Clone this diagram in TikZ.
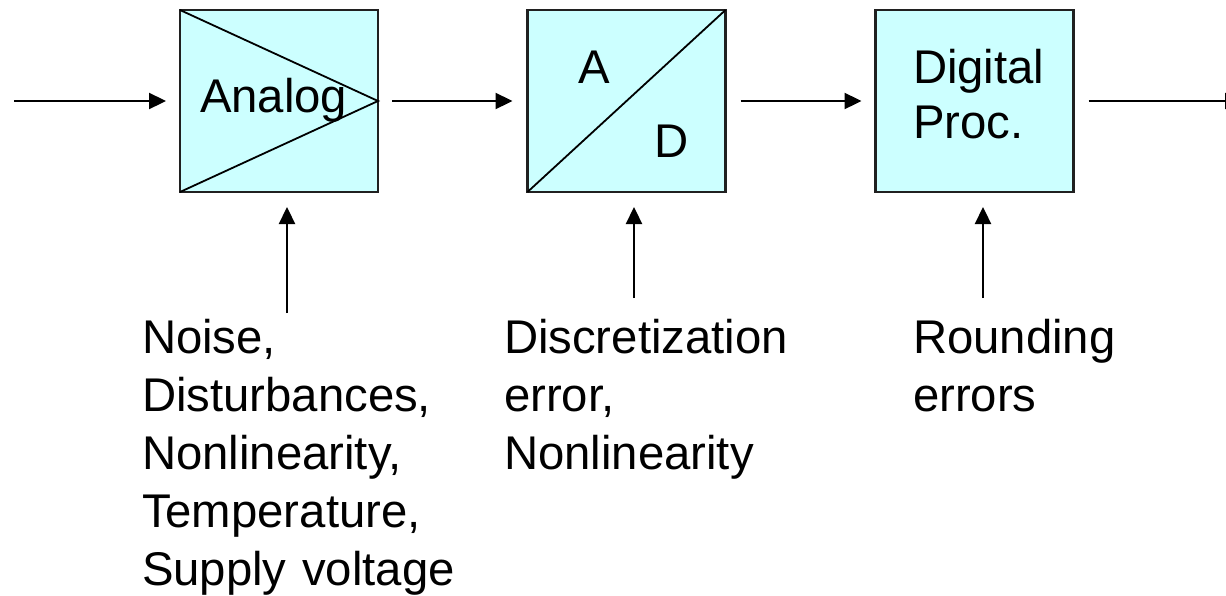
\documentclass[tikz,border=0pt]{standalone}
\usepackage{fontspec}
\setmainfont{Liberation Sans}
\usetikzlibrary{arrows.meta}

\definecolor{boxfill}{HTML}{CCFFFF}
\definecolor{boxline}{HTML}{202020}

\begin{document}
\begin{tikzpicture}[x=1pt, y=-1pt,
  every node/.style={inner sep=0pt, outer sep=0pt},
  block/.style={draw=boxline, line width=2.2pt, fill=boxfill,
    minimum width=198pt, minimum height=182pt},
  flow/.style={line width=2.3pt, -{Triangle[length=17pt, width=16pt]}},
  label/.style={anchor=base west, align=left, text width=340pt,
    font=\fontsize{47.3}{58}\selectfont},
  boxtext/.style={font=\fontsize{47.3}{55.5}\selectfont}]

  \useasboundingbox (0,0) rectangle (1226,595);
  \clip (0,0) rectangle (1226,595);

  % processing chain
  \node[block] (analog)  at (279,101) {};
  \node[block] (adc)     at (626.5,101) {};
  \node[block] (digital) at (974.5,101) {};

  % amplifier symbol inside the analog block
  \draw[line width=1.8pt] (analog.north west) -- (analog.east) -- (analog.south west);
  \node[boxtext, anchor=base west] (analogtxt) at (200,112) {Analog};

  % converter symbol
  \draw[line width=1.8pt] (adc.south west) -- (adc.north east);
  \node[boxtext, anchor=base] (atxt) at (594,83) {A};
  \node[boxtext, anchor=base] (dtxt) at (672,157) {D};

  % digital processing text
  \node[boxtext, anchor=base west, align=left, text width=150pt] (dtext) at (913,83) {Digital\\Proc.};

  % signal path
  \coordinate (in)  at (14,101);
  \coordinate (out) at (1242,101);
  \draw[flow, shorten >=14pt] (in) -- (analog.west);
  \draw[flow, shorten <=14pt, shorten >=15pt] (analog.east) -- (adc.west);
  \draw[flow, shorten <=15pt, shorten >=14pt] (adc.east) -- (digital.west);
  \draw[flow, shorten <=15pt] (digital.east) -- (out);

  % error sources
  \coordinate (e1) at (287,313);
  \coordinate (e2) at (634,298);
  \coordinate (e3) at (983,298);
  \draw[flow, shorten >=15pt] (e1) -- (e1 |- analog.south);
  \draw[flow, shorten >=15pt] (e2) -- (e2 |- adc.south);
  \draw[flow, shorten >=15pt] (e3) -- (e3 |- digital.south);

  \node[label] (l1) at (142,353) {Noise,\\Disturbances,\\Nonlinearity,\\Temperature,\\Supply voltage};
  \node[label] (l2) at (504,353) {Discretization\\error,\\Nonlinearity};
  \node[label] (l3) at (913,353) {Rounding\\errors};
\end{tikzpicture}
\end{document}
